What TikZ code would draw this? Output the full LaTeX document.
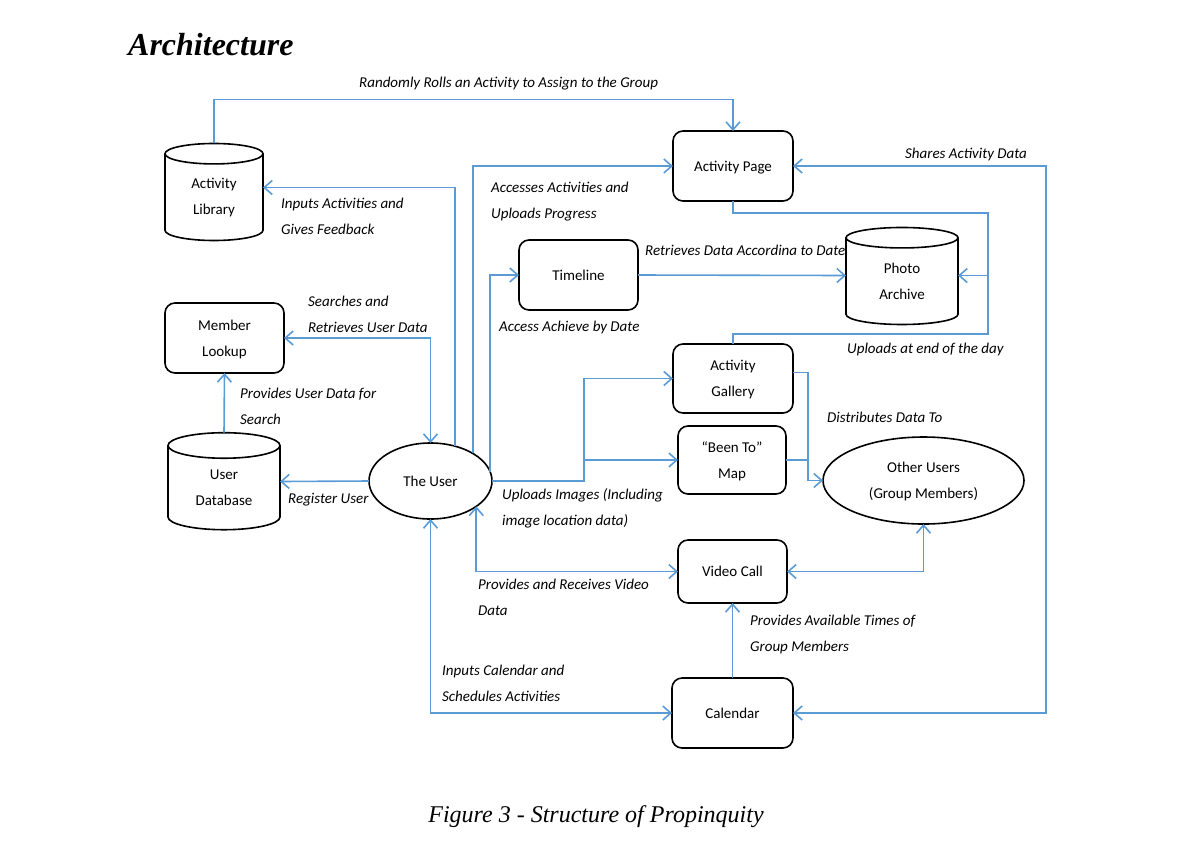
\documentclass[tikz,border=0pt]{standalone}
\usepackage{fontspec}
\setmainfont{Carlito}
\newfontfamily\serifx{Liberation Serif}
\usetikzlibrary{arrows.meta,shapes.geometric,calc}
\definecolor{lblue}{RGB}{91,155,213}
\begin{document}
\begin{tikzpicture}[x=1pt,y=-1pt,
  conn/.style={draw=lblue,line width=1.6pt},
  >={Straight Barb[length=8pt,width=14pt]},
  txt/.style={font=\fontsize{15}{26}\selectfont},
  box/.style={txt,draw,line width=1.6pt,rounded corners=10pt,inner sep=0pt,outer sep=0pt,align=center,text depth=0pt},
  db/.style={txt,draw,line width=1.6pt,cylinder,shape border rotate=90,aspect=0.45,inner sep=0pt,outer sep=0pt,align=center},
  oval/.style={txt,draw,line width=1.6pt,ellipse,inner sep=0pt,outer sep=0pt,align=center,text depth=0pt},
  lbl/.style={anchor=base west,inner sep=0pt,align=left,font=\fontsize{15}{26}\selectfont\itshape}]
\useasboundingbox (0,0) rectangle (1201,844);

\node[anchor=base west,inner sep=0pt,font=\serifx\fontsize{32}{36}\selectfont\bfseries\itshape] (title) at (128,55) {Architecture};
\node[anchor=base,inner sep=0pt,font=\serifx\fontsize{24}{28}\selectfont\itshape] (caption) at (596,822) {Figure 3 - Structure of Propinquity};

% nodes
\node[db,minimum width=98pt,minimum height=97pt] (alib) at (214,197.5) {Activity\\Library};
\node[box,minimum width=120pt,minimum height=70pt] (apage) at (733,166) {Activity Page};
\node[box,minimum width=119pt,minimum height=70pt] (tl) at (578.5,275) {Timeline};
\node[db,minimum width=112pt,minimum height=97pt] (pa) at (902,281.5) {Photo\\Archive};
\node[box,minimum width=119pt,minimum height=70pt] (ml) at (224.5,338) {Member\\Lookup};
\node[db,minimum width=112pt,minimum height=97pt] (udb) at (224,488) {User\\Database};
\node[oval,minimum width=123pt,minimum height=76pt] (tu) at (430.5,481) {The User};
\node[box,minimum width=120pt,minimum height=69pt] (agal) at (733,378.5) {Activity\\Gallery};
\node[box,minimum width=108pt,minimum height=68pt] (bt) at (732,460) {“Been To”\\Map};
\node[oval,minimum width=201pt,minimum height=87pt] (ou) at (923.5,480.5) {Other Users\\(Group Members)};
\node[box,minimum width=109pt,minimum height=63pt] (vc) at (732.5,571.5) {Video Call};
\node[box,minimum width=121pt,minimum height=70pt] (cal) at (732.5,713) {Calendar};

\coordinate (split) at (584,481);

% connectors
\draw[conn,->] (alib.north) -- ++(0,-44) -| (apage.north);
\draw[conn,->] (tu.55) |- ([yshift=10pt]alib.east);
\draw[conn,->] (tu.33) |- (apage.west);
\draw[conn,->] (tu.9) |- (tl.west);
\draw[conn,->] (tl.east) -- ([yshift=6pt]pa.west);
\draw[conn,->] (apage.south) -- ++(0,12) -| ([xshift=30pt,yshift=6pt]pa.east) -- ([yshift=6pt]pa.east);
\draw[conn] (agal.north) -- ++(0,-10) -| ([xshift=30pt,yshift=6pt]pa.east);
\draw[conn,<->] (apage.east) -- ++(253,0) |- (cal.east);
\draw[conn,<->] (ml.east) -| (tu.north);
\draw[conn,->] (udb.north) -- (ml.south);
\draw[conn,->] (tu.west) -- ([yshift=6.5pt]udb.east);
\draw[conn,->] (tu.east) -- (split) |- (agal.west);
\draw[conn,->] (split |- bt.west) -- (bt.west);
\draw[conn,->] ([yshift=6pt]agal.east) -- ++(15,0) |- (ou.west);
\draw[conn] (bt.east) -- ++(22,0);
\draw[conn,<->] (tu.-29.4) |- (vc.west);
\draw[conn,<->] (vc.east) -| (ou.south);
\draw[conn,->] (cal.north) -- (vc.south);
\draw[conn,<->] (tu.south) |- (cal.west);

% labels
\node[lbl] (l1) at (359,87) {Randomly Rolls an Activity to Assign to the Group};
\node[lbl] (l2) at (281,234) {Inputs Activities and\\Gives Feedback};
\node[lbl] (l3) at (491,218) {Accesses Activities and\\Uploads Progress};
\node[lbl] (l4) at (645,255) {Retrieves Data Accordina to Date};
\node[lbl] (l5) at (499,331) {Access Achieve by Date};
\node[lbl] (l6) at (847,353) {Uploads at end of the day};
\node[lbl] (l7) at (905,158) {Shares Activity Data};
\node[lbl] (l8) at (308,332) {Searches and\\Retrieves User Data};
\node[lbl] (l9) at (240,424) {Provides User Data for\\Search};
\node[lbl] (l10) at (288,503) {Register User};
\node[lbl] (l11) at (502,525) {Uploads Images (Including\\image location data)};
\node[lbl] (l12) at (827,422) {Distributes Data To};
\node[lbl] (l13) at (478,615) {Provides and Receives Video\\Data};
\node[lbl] (l14) at (750,651) {Provides Available Times of\\Group Members};
\node[lbl] (l15) at (442,701) {Inputs Calendar and\\Schedules Activities};
\end{tikzpicture}
\end{document}
